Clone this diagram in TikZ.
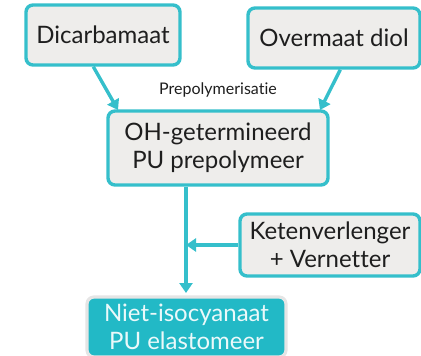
\documentclass[tikz,border=0pt]{standalone}
\usepackage{fontspec}
\setmainfont{Lato}[Ligatures={NoCommon}]
\usetikzlibrary{arrows.meta}
\definecolor{teal1}{HTML}{35BFCB}
\definecolor{boxfill}{HTML}{EEEDEB}
\definecolor{tealfill}{HTML}{22B9C6}
\definecolor{txt}{HTML}{1E1E1E}
\tikzset{
  box/.style={draw=teal1, line width=3.4pt, fill=boxfill, rounded corners=7pt, text=txt, font=\fontsize{24}{28}\selectfont, align=center, inner sep=0pt},
  final/.style={draw=black!10, line width=3.2pt, fill=tealfill, rounded corners=7pt, text=white!90!teal1, font=\fontsize{24}{28}\selectfont, align=center, inner sep=0pt},
  conn/.style={draw=teal1, line width=3.4pt, -{Triangle[length=10pt,width=13pt]}},
}
\begin{document}
\begin{tikzpicture}[x=1pt,y=-1pt]
\useasboundingbox (0,0) rectangle (421,356);
\node[box, minimum width=154pt, minimum height=60pt] (dic) at (103,35) {Dicarbamaat};
\node[box, minimum width=172pt, minimum height=60pt] (dio) at (334,38) {Overmaat diol};
\node[box, minimum width=220pt, minimum height=74pt] (oh) at (218,148) {OH-getermineerd\\PU prepolymeer};
\node[box, minimum width=180pt, minimum height=62pt] (ket) at (330,245) {Ketenverlenger\\+ Vernetter};
\node[final, minimum width=199pt, minimum height=60pt] (fin) at (186.5,327) {Niet-isocyanaat\\PU elastomeer};
\node[font=\fontsize{16}{18}\selectfont, text=txt] (lab) at (218,90) {Prepolymerisatie};
\coordinate (j) at (186,245);
\draw[conn] (dic.south west) ++(69,0) coordinate (a1) (a1) -- (118,110);
\draw[conn] (dio.south west) ++(94,0) coordinate (a2) (a2) -- (320,110);
\draw[conn] (oh.south -| j) -- (186,293);
\draw[conn] (ket.west) -- (j);
\end{tikzpicture}
\end{document}
